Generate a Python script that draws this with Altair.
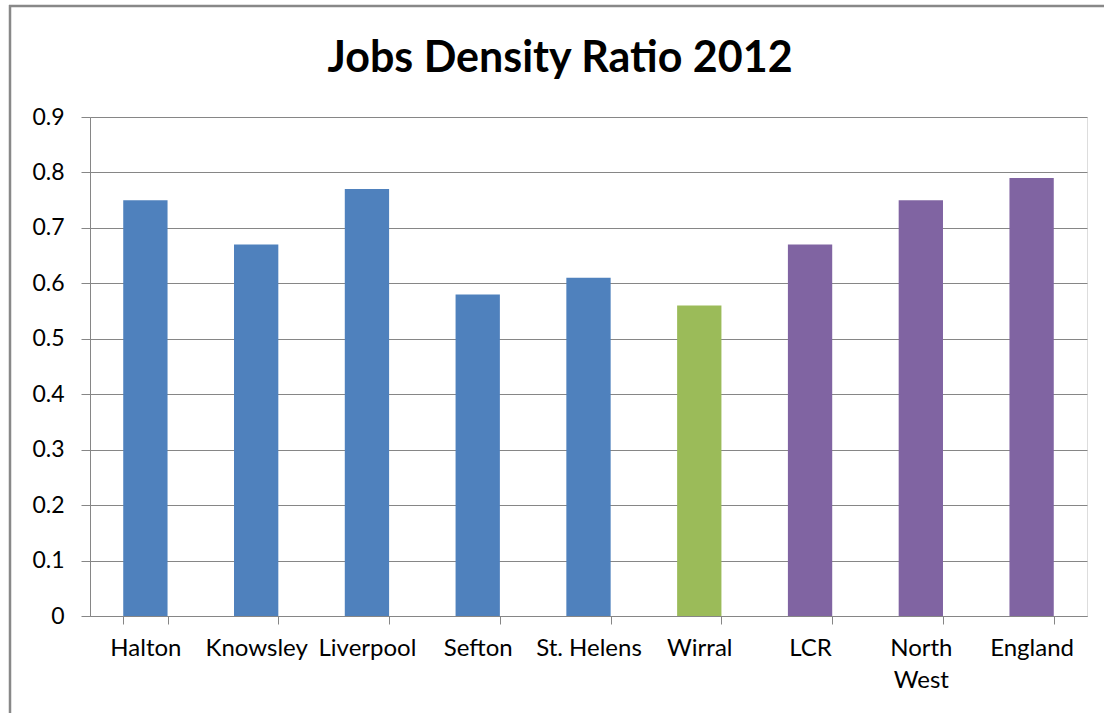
import altair as alt
import pandas as pd

categories = ["Halton", "Knowsley", "Liverpool", "Sefton", "St. Helens", "Wirral", "LCR", "North West", "England"]
values = [0.75, 0.67, 0.77, 0.58, 0.61, 0.56, 0.67, 0.75, 0.79]
groups = ["area", "area", "area", "area", "area", "wirral", "region", "region", "region"]
group_domain = ["area", "wirral", "region"]
group_colors = ["#4F81BD", "#9BBB59", "#8064A2"]
y_ticks = [0, 0.1, 0.2, 0.3, 0.4, 0.5, 0.6, 0.7, 0.8, 0.9]
title_text = "Jobs Density Ratio 2012"

df = pd.DataFrame({"cat": categories, "val": values, "grp": groups})

W, H = 997, 499
PL, PT = 90, 117

bars = alt.Chart(df).mark_bar().encode(
    x=alt.X("cat:N", sort=categories, title=None,
            scale=alt.Scale(paddingInner=0.6, paddingOuter=0.3),
            axis=alt.Axis(labelAngle=0, tickBand="extent", tickSize=8,
                          labelFontSize=24, labelFont="Lato", labelColor="#000000",
                          labelPadding=12, labelLineHeight=32,
                          labelExpr="datum.label == 'North West' ? ['North', 'West'] : datum.label",
                          domainColor="#868686", tickColor="#868686", grid=False)),
    y=alt.Y("val:Q", title=None,
            scale=alt.Scale(domain=[0, 0.9], nice=False),
            axis=alt.Axis(values=y_ticks, format=".1~f", tickSize=9, labelFontSize=23,
                          labelFont="Lato", labelColor="#000000", labelPadding=17,
                          domainColor="#868686", tickColor="#868686",
                          gridColor="#868686", gridWidth=1)),
    color=alt.Color("grp:N", scale=alt.Scale(domain=group_domain, range=group_colors), legend=None),
)

one = pd.DataFrame({"k": [0]})
left_border = alt.Chart(one).mark_rule(stroke="#888888", strokeWidth=2.5).encode(
    x=alt.value(-PL + 10), y=alt.value(-PT + 5), y2=alt.value(H + 120),
)
top_border = alt.Chart(one).mark_rule(stroke="#888888", strokeWidth=2.5).encode(
    x=alt.value(-PL + 9), x2=alt.value(W + 30), y=alt.value(-PT + 6),
)

title = alt.Chart(pd.DataFrame({"t": [title_text]})).mark_text(
    font="Lato", fontSize=43, fontWeight="bold", color="#000000",
    align="center", baseline="alphabetic",
).encode(text="t:N", x=alt.value(470), y=alt.value(-45))

chart = alt.layer(left_border, top_border, bars, title).properties(
    width=W, height=H,
    autosize=alt.AutoSizeParams(type="none"),
    padding={"left": PL, "top": PT, "right": 1104 - PL - W, "bottom": 713 - PT - H},
).configure_view(stroke=None).configure(background="#ffffff")

chart.save("out.html", embed_options={"renderer": "svg", "actions": False})
